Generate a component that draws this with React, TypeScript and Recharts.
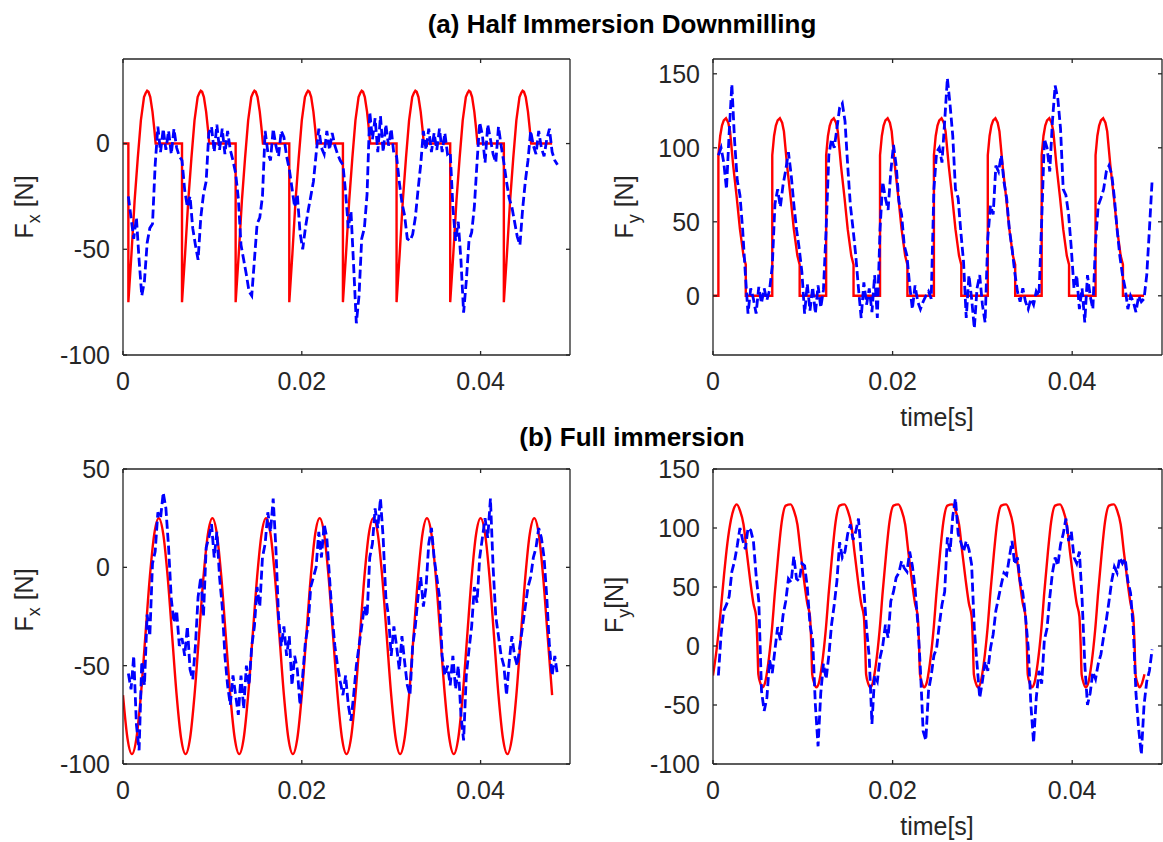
import React from 'react';
import { LineChart, Line, XAxis, YAxis } from 'recharts';

// time is kept in ms, axis labels are shown in seconds
const X_DOMAIN: [number, number] = [0, 50];
const X_TICKS = [0, 20, 40];

// measured signals are sampled on a uniform grid (ms)
const MEAS_T0 = 0.6;
const MEAS_DT = 0.3;

// ---- (a) half immersion downmilling ----
const fxHalfModel = [
  [0, 0],
  [0.6, 0], [0.6, -75], [0.95, -52], [1.3, -27], [1.65, -7], [2.0, 11], [2.35, 22], [2.55, 24], [2.7, 25], [2.85, 24.5], [3.05, 22], [3.3, 15], [3.5, 7], [3.65, 0],
  [6.6, 0], [6.6, -75], [6.95, -52], [7.3, -27], [7.65, -7], [8.0, 11], [8.35, 22], [8.55, 24], [8.7, 25], [8.85, 24.5], [9.05, 22], [9.3, 15], [9.5, 7], [9.65, 0],
  [12.6, 0], [12.6, -75], [12.95, -52], [13.3, -27], [13.65, -7], [14.0, 11], [14.35, 22], [14.55, 24], [14.7, 25], [14.85, 24.5], [15.05, 22], [15.3, 15], [15.5, 7], [15.65, 0],
  [18.6, 0], [18.6, -75], [18.95, -52], [19.3, -27], [19.65, -7], [20.0, 11], [20.35, 22], [20.55, 24], [20.7, 25], [20.85, 24.5], [21.05, 22], [21.3, 15], [21.5, 7], [21.65, 0],
  [24.6, 0], [24.6, -75], [24.95, -52], [25.3, -27], [25.65, -7], [26.0, 11], [26.35, 22], [26.55, 24], [26.7, 25], [26.85, 24.5], [27.05, 22], [27.3, 15], [27.5, 7], [27.65, 0],
  [30.6, 0], [30.6, -75], [30.95, -52], [31.3, -27], [31.65, -7], [32.0, 11], [32.35, 22], [32.55, 24], [32.7, 25], [32.85, 24.5], [33.05, 22], [33.3, 15], [33.5, 7], [33.65, 0],
  [36.6, 0], [36.6, -75], [36.95, -52], [37.3, -27], [37.65, -7], [38.0, 11], [38.35, 22], [38.55, 24], [38.7, 25], [38.85, 24.5], [39.05, 22], [39.3, 15], [39.5, 7], [39.65, 0],
  [42.6, 0], [42.6, -75], [42.95, -52], [43.3, -27], [43.65, -7], [44.0, 11], [44.35, 22], [44.55, 24], [44.7, 25], [44.85, 24.5], [45.05, 22], [45.3, 15], [45.5, 7], [45.65, 0],
  [48.0, 0],
];

const fxHalfMeas = [
  -25, -35, -45, -35, -55, -72, -65, -47, -40, -38, -10, 8, -4, 7, -3, 6, -5, 7, -2, -6,
  -8, -22, -30, -25, -40, -48, -55, -35, -24, -18, 5, 8, -4, 9, -3, 7, -5, 6, -3, -8,
  -14, -26, -48, -55, -62, -70, -72, -55, -38, -35, -25, 6, -4, -8, 7, -1, -6, 6, 3, -6,
  -12, -21, -30, -24, -42, -50, -40, -32, -25, -18, -5, 7, -2, -5, 6, -3, 5, -1, -5, -8,
  -10, -23, -40, -32, -58, -85, -72, -45, -40, -24, 15, 2, 12, -4, 13, -4, 9, -1, 7, -5,
  -6, -18, -28, -34, -45, -46, -43, -35, -22, -10, 6, -3, 7, -4, 5, -3, 7, -4, 5, -5,
  -4, -30, -46, -37, -55, -80, -65, -46, -42, -30, -9, 10, 4, -9, 9, 2, -5, -9, 8, -1,
  -9, -18, -26, -30, -37, -44, -48, -31, -18, -8, 6, -1, -5, 6, -2, -6, 2, 7, -4, -8,
  -10,
];

const fyHalfModel = [
  [0, 0],
  [0.6, 0], [0.6, 95], [0.8, 108], [1.0, 115], [1.2, 118.5], [1.45, 120], [1.7, 117], [1.9, 111], [2.25, 88], [2.65, 66], [3.0, 45], [3.4, 27], [3.65, 21], [3.65, 0],
  [6.6, 0], [6.6, 95], [6.8, 108], [7.0, 115], [7.2, 118.5], [7.45, 120], [7.7, 117], [7.9, 111], [8.25, 88], [8.65, 66], [9.0, 45], [9.4, 27], [9.65, 21], [9.65, 0],
  [12.6, 0], [12.6, 95], [12.8, 108], [13.0, 115], [13.2, 118.5], [13.45, 120], [13.7, 117], [13.9, 111], [14.25, 88], [14.65, 66], [15.0, 45], [15.4, 27], [15.65, 21], [15.65, 0],
  [18.6, 0], [18.6, 95], [18.8, 108], [19.0, 115], [19.2, 118.5], [19.45, 120], [19.7, 117], [19.9, 111], [20.25, 88], [20.65, 66], [21.0, 45], [21.4, 27], [21.65, 21], [21.65, 0],
  [24.6, 0], [24.6, 95], [24.8, 108], [25.0, 115], [25.2, 118.5], [25.45, 120], [25.7, 117], [25.9, 111], [26.25, 88], [26.65, 66], [27.0, 45], [27.4, 27], [27.65, 21], [27.65, 0],
  [30.6, 0], [30.6, 95], [30.8, 108], [31.0, 115], [31.2, 118.5], [31.45, 120], [31.7, 117], [31.9, 111], [32.25, 88], [32.65, 66], [33.0, 45], [33.4, 27], [33.65, 21], [33.65, 0],
  [36.6, 0], [36.6, 95], [36.8, 108], [37.0, 115], [37.2, 118.5], [37.45, 120], [37.7, 117], [37.9, 111], [38.25, 88], [38.65, 66], [39.0, 45], [39.4, 27], [39.65, 21], [39.65, 0],
  [42.6, 0], [42.6, 95], [42.8, 108], [43.0, 115], [43.2, 118.5], [43.45, 120], [43.7, 117], [43.9, 111], [44.25, 88], [44.65, 66], [45.0, 45], [45.4, 27], [45.65, 21], [45.65, 0],
  [48.0, 0],
];

const fyHalfMeas = [
  95, 100, 90, 72, 110, 143, 105, 78, 68, 45, 15, -12, 5, -2, -12, 6, -5, 5, -3, 4,
  20, 62, 72, 60, 75, 85, 97, 82, 62, 45, 32, 16, -12, 8, -10, 6, -12, 7, -8, 4,
  45, 95, 106, 100, 113, 127, 130, 118, 88, 61, 45, 27, 5, -15, 9, -6, 5, -11, 14, -15,
  45, 77, 66, 58, 84, 102, 88, 64, 55, 34, 27, 7, -9, 7, -4, -9, -4, 0, 3, -2,
  72, 97, 100, 90, 118, 147, 129, 108, 72, 66, 43, 23, -15, 14, -2, -22, 5, 14, -6, -18,
  39, 61, 55, 88, 84, 95, 77, 66, 45, 32, 16, 3, -4, 5, -4, -9, -2, -6, 3, 0,
  50, 106, 100, 84, 118, 142, 133, 113, 72, 68, 55, 32, 5, 14, -9, 5, -18, 14, 0, -9,
  36, 61, 66, 72, 84, 88, 82, 66, 45, 27, 14, 5, -9, 0, -4, -11, 0, -4, -2, 14,
  45, 78,
];

// ---- (b) full immersion ----
const fxFullModel = [
  [0, -65], [0.5, -87], [1, -95], [1.5, -87], [2, -65], [2.5, -35], [3, -5], [3.5, 17], [4, 25], [4.5, 17], [5, -5], [5.5, -35],
  [6, -65], [6.5, -87], [7, -95], [7.5, -87], [8, -65], [8.5, -35], [9, -5], [9.5, 17], [10, 25], [10.5, 17], [11, -5], [11.5, -35],
  [12, -65], [12.5, -87], [13, -95], [13.5, -87], [14, -65], [14.5, -35], [15, -5], [15.5, 17], [16, 25], [16.5, 17], [17, -5], [17.5, -35],
  [18, -65], [18.5, -87], [19, -95], [19.5, -87], [20, -65], [20.5, -35], [21, -5], [21.5, 17], [22, 25], [22.5, 17], [23, -5], [23.5, -35],
  [24, -65], [24.5, -87], [25, -95], [25.5, -87], [26, -65], [26.5, -35], [27, -5], [27.5, 17], [28, 25], [28.5, 17], [29, -5], [29.5, -35],
  [30, -65], [30.5, -87], [31, -95], [31.5, -87], [32, -65], [32.5, -35], [33, -5], [33.5, 17], [34, 25], [34.5, 17], [35, -5], [35.5, -35],
  [36, -65], [36.5, -87], [37, -95], [37.5, -87], [38, -65], [38.5, -35], [39, -5], [39.5, 17], [40, 25], [40.5, 17], [41, -5], [41.5, -35],
  [42, -65], [42.5, -87], [43, -95], [43.5, -87], [44, -65], [44.5, -35], [45, -5], [45.5, 17], [46, 25], [46.5, 17], [47, -5], [47.5, -35],
  [48, -65],
];

const fxFullMeas = [
  -54, -62, -45, -80, -93, -48, -60, -24, -35, 2, 8, 28, 25, 38, 30, 10, -16, -28, -22, -40,
  -36, -45, -30, -52, -57, -40, -15, -5, -25, 10, 15, 22, 5, 18, -5, -20, -45, -60, -70, -55,
  -65, -75, -55, -72, -50, -60, -40, -30, -10, -20, 5, 12, 28, 18, 35, 10, -25, -40, -30, -45,
  -35, -60, -45, -52, -70, -55, -38, -30, -10, -5, 0, 18, 5, 22, 15, -5, -25, -40, -50, -58,
  -65, -55, -70, -78, -65, -50, -40, -30, -20, -25, 5, 12, 30, 20, 35, 15, -15, -25, -45, -30,
  -40, -52, -35, -48, -60, -65, -40, -30, -15, -5, -20, -10, 12, 20, 5, -5, -15, -45, -55, -50,
  -60, -45, -62, -50, -75, -88, -55, -42, -30, -10, -18, 5, 15, 25, 15, 35, 0, -25, -35, -45,
  -50, -65, -48, -35, -45, -50, -40, -30, -20, -10, -5, 5, 10, 20, 15, 5, -15, -40, -55, -45,
  -55,
];

const fyFullModel = [
  [0, -25], [0.4, -3], [0.8, 25], [1.2, 58], [1.6, 87], [2.0, 107], [2.3, 116], [2.65, 120],
  [3.0, 115], [3.4, 103], [3.75, 80], [4.15, 55], [4.5, 36], [4.8, 25], [4.95, 0], [5.05, -24], [5.3, -32], [5.5, -35], [5.8, -31], [6.15, -15], [6.55, 13], [6.9, 46], [7.3, 80], [7.65, 105], [8.1, 119], [8.65, 120],
  [9.0, 115], [9.4, 103], [9.75, 80], [10.15, 55], [10.5, 36], [10.8, 25], [10.95, 0], [11.05, -24], [11.3, -32], [11.5, -35], [11.8, -31], [12.15, -15], [12.55, 13], [12.9, 46], [13.3, 80], [13.65, 105], [14.1, 119], [14.65, 120],
  [15.0, 115], [15.4, 103], [15.75, 80], [16.15, 55], [16.5, 36], [16.8, 25], [16.95, 0], [17.05, -24], [17.3, -32], [17.5, -35], [17.8, -31], [18.15, -15], [18.55, 13], [18.9, 46], [19.3, 80], [19.65, 105], [20.1, 119], [20.65, 120],
  [21.0, 115], [21.4, 103], [21.75, 80], [22.15, 55], [22.5, 36], [22.8, 25], [22.95, 0], [23.05, -24], [23.3, -32], [23.5, -35], [23.8, -31], [24.15, -15], [24.55, 13], [24.9, 46], [25.3, 80], [25.65, 105], [26.1, 119], [26.65, 120],
  [27.0, 115], [27.4, 103], [27.75, 80], [28.15, 55], [28.5, 36], [28.8, 25], [28.95, 0], [29.05, -24], [29.3, -32], [29.5, -35], [29.8, -31], [30.15, -15], [30.55, 13], [30.9, 46], [31.3, 80], [31.65, 105], [32.1, 119], [32.65, 120],
  [33.0, 115], [33.4, 103], [33.75, 80], [34.15, 55], [34.5, 36], [34.8, 25], [34.95, 0], [35.05, -24], [35.3, -32], [35.5, -35], [35.8, -31], [36.15, -15], [36.55, 13], [36.9, 46], [37.3, 80], [37.65, 105], [38.1, 119], [38.65, 120],
  [39.0, 115], [39.4, 103], [39.75, 80], [40.15, 55], [40.5, 36], [40.8, 25], [40.95, 0], [41.05, -24], [41.3, -32], [41.5, -35], [41.8, -31], [42.15, -15], [42.55, 13], [42.9, 46], [43.3, 80], [43.65, 105], [44.1, 119], [44.65, 120],
  [45.0, 115], [45.4, 103], [45.75, 80], [46.15, 55], [46.5, 36], [46.8, 25], [46.95, 0], [47.05, -24], [47.3, -32], [47.5, -35], [47.8, -31], [48.05, -24],
];

const fyFullMeas = [
  -25, 10, 30, 35, 42, 63, 72, 85, 100, 90, 82, 100, 98, 89, 60, 38, -38, -55, -44, -12,
  -23, -3, 16, 5, 26, 38, 57, 54, 76, 57, 55, 70, 68, 50, 18, 5, -50, -85, -40, -15,
  -28, -8, 18, 35, 55, 88, 75, 80, 95, 103, 90, 97, 108, 78, 48, 15, -10, -66, -25, -30,
  -10, 0, 18, 7, 38, 46, 58, 62, 72, 66, 63, 80, 68, 49, 20, -20, -72, -80, -38, -25,
  -8, -2, 18, 35, 46, 92, 80, 110, 125, 95, 88, 80, 89, 82, 69, 15, -15, -44, -30, -13,
  -21, -2, 10, 30, 41, 52, 62, 60, 75, 89, 69, 75, 55, 45, 25, -1, -50, -82, -44, -21,
  -32, 5, 15, 41, 62, 75, 68, 86, 95, 108, 89, 97, 75, 70, 80, 40, -15, -50, -40, -22,
  -28, -15, -7, 8, 22, 38, 55, 67, 62, 75, 70, 74, 55, 45, 15, -40, -70, -92, -50, -30,
  -21, -3,
];

const AXIS = '#262626';
const FONT = '"Liberation Sans", Arial, Helvetica, sans-serif';
const YW = 100; // room for y tick labels
const XH = 60; // room for x tick labels
const PAD = 6; // mirrored top / right axes
const TOP_ROOM = 18; // keeps the highest y tick label inside the svg

type Pt = { t: number; v: number };
const pairsToPts = (pairs: number[][]): Pt[] => pairs.map(([t, v]) => ({ t, v }));
const sampledToPts = (vals: number[]): Pt[] =>
  vals.map((v, i) => ({ t: Math.round((MEAS_T0 + i * MEAS_DT) * 100) / 100, v }));

const fmtTime = (v: number) => (v === 0 ? '0' : String(v / 1000));
const NoLabel = () => <g />;

interface PanelProps {
  left: number;
  top: number;
  width: number;
  height: number;
  yDomain: [number, number];
  yTicks: number[];
  model: Pt[];
  meas: Pt[];
  smooth?: boolean;
}

const Panel = ({ left, top, width, height, yDomain, yTicks, model, meas, smooth }: PanelProps) => {
  const tickStyle = { fill: AXIS, fontSize: 25, fontFamily: FONT };
  const frame = { stroke: AXIS, strokeWidth: 1.3 };
  return (
    <div style={{ position: 'absolute', left: left - YW, top: top - PAD - TOP_ROOM }}>
      <LineChart
        width={YW + width + PAD}
        height={TOP_ROOM + PAD + height + XH}
        margin={{ top: TOP_ROOM, right: 0, bottom: 0, left: 0 }}
      >
        <XAxis
          xAxisId="b"
          type="number"
          dataKey="t"
          domain={X_DOMAIN}
          ticks={X_TICKS}
          interval={0}
          allowDataOverflow
          height={XH}
          tickFormatter={fmtTime}
          tickSize={-4}
          tickMargin={21}
          stroke={AXIS}
          axisLine={frame}
          tickLine={frame}
          tick={tickStyle}
        />
        <XAxis
          xAxisId="t"
          orientation="top"
          type="number"
          dataKey="t"
          domain={X_DOMAIN}
          ticks={X_TICKS}
          interval={0}
          allowDataOverflow
          height={PAD}
          tickSize={-4}
          stroke={AXIS}
          axisLine={frame}
          tickLine={frame}
          tick={NoLabel}
        />
        <YAxis
          yAxisId="l"
          type="number"
          domain={yDomain}
          ticks={yTicks}
          interval={0}
          allowDataOverflow
          width={YW}
          tickSize={-4}
          tickMargin={17}
          stroke={AXIS}
          axisLine={frame}
          tickLine={frame}
          tick={tickStyle}
        />
        <YAxis
          yAxisId="r"
          orientation="right"
          type="number"
          domain={yDomain}
          ticks={yTicks}
          interval={0}
          allowDataOverflow
          width={PAD}
          tickSize={-4}
          stroke={AXIS}
          axisLine={frame}
          tickLine={frame}
          tick={NoLabel}
        />
        <Line
          xAxisId="b"
          yAxisId="l"
          data={model}
          dataKey="v"
          type={smooth ? 'monotone' : 'linear'}
          stroke="#ff0000"
          strokeWidth={2.4}
          dot={false}
          activeDot={false}
          isAnimationActive={false}
        />
        <Line
          xAxisId="b"
          yAxisId="l"
          data={meas}
          dataKey="v"
          type="linear"
          stroke="#0000ff"
          strokeWidth={2.8}
          strokeDasharray="9 4"
          dot={false}
          activeDot={false}
          isAnimationActive={false}
        />
      </LineChart>
    </div>
  );
};

const YLabel = ({ x, y, sub, gap = true }: { x: number; y: number; sub: string; gap?: boolean }) => (
  <text
    transform={`translate(${x},${y}) rotate(-90)`}
    textAnchor="middle"
    fontSize={25}
    fontFamily={FONT}
    fill={AXIS}
    style={{ whiteSpace: 'pre' }}
  >
    F
    <tspan fontSize={18} dy={7}>
      {sub}
    </tspan>
    <tspan dy={-7}>{gap ? ' [N]' : '[N]'}</tspan>
  </text>
);

export default function App() {
  return (
    <div style={{ position: 'absolute', left: 0, top: 0, width: 1163, height: 842, background: '#fff', overflow: 'hidden' }}>
      <Panel left={123} top={59} width={447} height={296} yDomain={[-100, 40]} yTicks={[-100, -50, 0]}
        model={pairsToPts(fxHalfModel)} meas={sampledToPts(fxHalfMeas)} />
      <Panel left={713} top={59} width={449} height={296} yDomain={[-40, 160]} yTicks={[0, 50, 100, 150]}
        model={pairsToPts(fyHalfModel)} meas={sampledToPts(fyHalfMeas)} />
      <Panel left={123} top={469} width={447} height={295} yDomain={[-100, 50]} yTicks={[-100, -50, 0, 50]}
        model={pairsToPts(fxFullModel)} meas={sampledToPts(fxFullMeas)} smooth />
      <Panel left={713} top={469} width={449} height={295} yDomain={[-100, 150]} yTicks={[-100, -50, 0, 50, 100, 150]}
        model={pairsToPts(fyFullModel)} meas={sampledToPts(fyFullMeas)} smooth />

      <svg width={1163} height={842} style={{ position: 'absolute', left: 0, top: 0, pointerEvents: 'none' }}>
        <text x={622} y={33} textAnchor="middle" fontSize={26} fontWeight="bold" fontFamily={FONT} fill="#000">
          (a) Half Immersion Downmilling
        </text>
        <text x={632} y={446} textAnchor="middle" fontSize={26} fontWeight="bold" fontFamily={FONT} fill="#000">
          (b) Full immersion
        </text>
        <YLabel x={33} y={207} sub="x" />
        <YLabel x={633} y={207} sub="y" />
        <YLabel x={33} y={600} sub="x" />
        <YLabel x={623} y={605} sub="y" gap={false} />
        <text x={937} y={426} textAnchor="middle" fontSize={25} fontFamily={FONT} fill={AXIS}>
          time[s]
        </text>
        <text x={937} y={835} textAnchor="middle" fontSize={25} fontFamily={FONT} fill={AXIS}>
          time[s]
        </text>
      </svg>
    </div>
  );
}
